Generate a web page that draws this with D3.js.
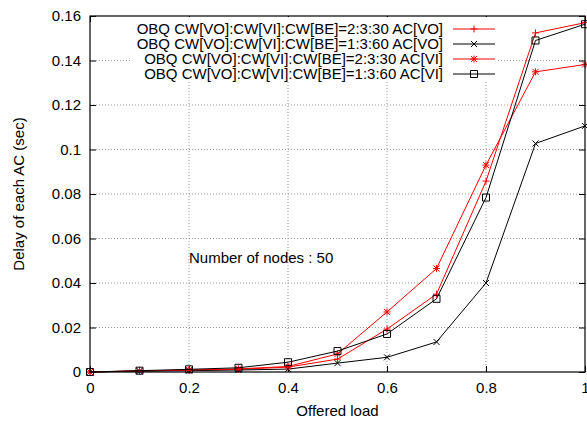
<!DOCTYPE html>
<html>
<head>
<meta charset="utf-8">
<script src="https://cdn.jsdelivr.net/npm/d3@7"></script>
<style>
  body { margin: 0; background: #fff; }
  text { font-family: "Liberation Sans", Arial, sans-serif; }
</style>
</head>
<body>
<div id="chart"></div>
<script>
// data
var loads = [0, 0.1, 0.2, 0.3, 0.4, 0.5, 0.6, 0.7, 0.8, 0.9, 1];
var voFast = [0, 0.0005, 0.0008, 0.0012, 0.0022, 0.0058, 0.0193, 0.035, 0.0858, 0.1524, 0.157];
var voSlow = [0, 0.0004, 0.0006, 0.0009, 0.0013, 0.004, 0.0066, 0.0135, 0.040, 0.1027, 0.1106];
var viFast = [0, 0.0005, 0.0009, 0.0014, 0.0025, 0.0081, 0.027, 0.0465, 0.093, 0.1349, 0.1382];
var viSlow = [0, 0.0006, 0.0012, 0.0019, 0.0044, 0.0094, 0.0171, 0.0329, 0.0784, 0.149, 0.1563];
var seriesNames = [
  "OBQ CW[VO]:CW[VI]:CW[BE]=2:3:30 AC[VO]",
  "OBQ CW[VO]:CW[VI]:CW[BE]=1:3:60 AC[VO]",
  "OBQ CW[VO]:CW[VI]:CW[BE]=2:3:30 AC[VI]",
  "OBQ CW[VO]:CW[VI]:CW[BE]=1:3:60 AC[VI]"
];
var xTicks = [0, 0.2, 0.4, 0.6, 0.8, 1];
var yTicks = [0, 0.02, 0.04, 0.06, 0.08, 0.1, 0.12, 0.14, 0.16];

var series = [
  {name: seriesNames[0], values: voFast, color: "#ff0000", mark: "plus"},
  {name: seriesNames[1], values: voSlow, color: "#000000", mark: "cross"},
  {name: seriesNames[2], values: viFast, color: "#ff0000", mark: "star"},
  {name: seriesNames[3], values: viSlow, color: "#000000", mark: "square"}
];

var margin = {top: 16, right: 2, bottom: 49, left: 90},
  width = 587 - margin.left - margin.right,
  height = 421 - margin.top - margin.bottom;

var svg = d3.select("#chart")
  .append("svg")
  .attr("width", 587)
  .attr("height", 421)
  .append("g")
  .attr("transform", "translate(" + margin.left + "," + margin.top + ")");

var x = d3.scaleLinear().domain([0, 1]).range([0, width]);
var y = d3.scaleLinear().domain([0, 0.16]).range([height, 0]);

// grid
var grid = svg.append("g").attr("class", "grid");
grid.selectAll(".vg").data(xTicks.slice(1, -1)).enter().append("line")
  .attr("x1", d => x(d)).attr("x2", d => x(d))
  .attr("y1", 0).attr("y2", height);
grid.selectAll(".hg").data(yTicks.slice(1, -1)).enter().append("line")
  .attr("x1", 0).attr("x2", width)
  .attr("y1", d => y(d)).attr("y2", d => y(d));
grid.selectAll("line")
  .attr("stroke", "#999")
  .attr("stroke-width", 1)
  .attr("stroke-dasharray", "1,2");

// axes with inward ticks on every side
var fmt = d => d === 0 ? "0" : d3.format("~g")(d);
svg.append("g")
  .attr("transform", "translate(0," + height + ")")
  .call(d3.axisBottom(x).tickValues(xTicks).tickFormat(fmt).tickSizeInner(-6).tickSizeOuter(0).tickPadding(10));
svg.append("g")
  .call(d3.axisTop(x).tickValues(xTicks).tickFormat("").tickSizeInner(-6).tickSizeOuter(0));
svg.append("g")
  .call(d3.axisLeft(y).tickValues(yTicks).tickFormat(fmt).tickSizeInner(-6).tickSizeOuter(0).tickPadding(9));
svg.append("g")
  .attr("transform", "translate(" + width + ",0)")
  .call(d3.axisRight(y).tickValues(yTicks).tickFormat("").tickSizeInner(-6).tickSizeOuter(0));
svg.selectAll(".domain").remove();
svg.selectAll(".tick line").attr("stroke", "#000");
svg.selectAll(".tick text").attr("font-size", 15).attr("fill", "#000")
  .attr("font-family", "Liberation Sans, Arial, sans-serif");

// legend background hides the grid
var legendRight = 408, legendTop = 13, rowH = 15;
svg.append("rect")
  .attr("x", 40).attr("y", 1)
  .attr("width", legendRight - 40).attr("height", 63)
  .attr("fill", "#fff");

// markers
function marker(g, type, color, cx, cy) {
  var s = 3.5;
  var p = g.append("path")
    .attr("fill", "none")
    .attr("stroke", color)
    .attr("stroke-width", 1);
  if (type === "plus") {
    p.attr("d", `M${cx - s},${cy}H${cx + s}M${cx},${cy - s}V${cy + s}`);
  } else if (type === "cross") {
    p.attr("d", `M${cx - 3},${cy - 3}L${cx + 3},${cy + 3}M${cx - 3},${cy + 3}L${cx + 3},${cy - 3}`);
  } else if (type === "star") {
    p.attr("d", `M${cx - s},${cy}H${cx + s}M${cx},${cy - s}V${cy + s}M${cx - 3},${cy - 3}L${cx + 3},${cy + 3}M${cx - 3},${cy + 3}L${cx + 3},${cy - 3}`);
  } else {
    p.attr("d", `M${cx - 3.5},${cy - 3.5}h7v7h-7z`);
  }
}

var line = d3.line()
  .x((d, i) => x(loads[i]))
  .y(d => y(d));

series.forEach(function(s, k) {
  var g = svg.append("g").attr("class", "series");
  g.append("path")
    .datum(s.values)
    .attr("fill", "none")
    .attr("stroke", s.color)
    .attr("stroke-width", 1)
    .attr("d", line);
  s.values.forEach(function(v, i) {
    marker(g, s.mark, s.color, x(loads[i]), y(v));
  });

  // legend row
  var ly = legendTop + k * rowH;
  svg.append("text")
    .attr("x", legendRight - 55)
    .attr("y", ly)
    .attr("dy", "0.35em")
    .attr("text-anchor", "end")
    .attr("font-size", 15)
    .text(s.name);
  svg.append("line")
    .attr("x1", legendRight - 45).attr("x2", legendRight - 3)
    .attr("y1", ly).attr("y2", ly)
    .attr("stroke", s.color).attr("stroke-width", 1);
  marker(svg, s.mark, s.color, legendRight - 24, ly);
});

// frame
svg.append("rect")
  .attr("width", width).attr("height", height)
  .attr("fill", "none")
  .attr("stroke", "#000")
  .attr("stroke-width", 1.2);

// labels
svg.append("text")
  .attr("x", width / 2).attr("y", height + 44)
  .attr("text-anchor", "middle")
  .attr("font-size", 15)
  .text("Offered load");
svg.append("text")
  .attr("transform", "translate(" + (-66) + "," + (height / 2) + ") rotate(-90)")
  .attr("text-anchor", "middle")
  .attr("font-size", 15)
  .text("Delay of each AC (sec)");
svg.append("text")
  .attr("x", x(0.2))
  .attr("y", y(0.049))
  .attr("font-size", 15)
  .text("Number of nodes : 50");
</script>
</body>
</html>
